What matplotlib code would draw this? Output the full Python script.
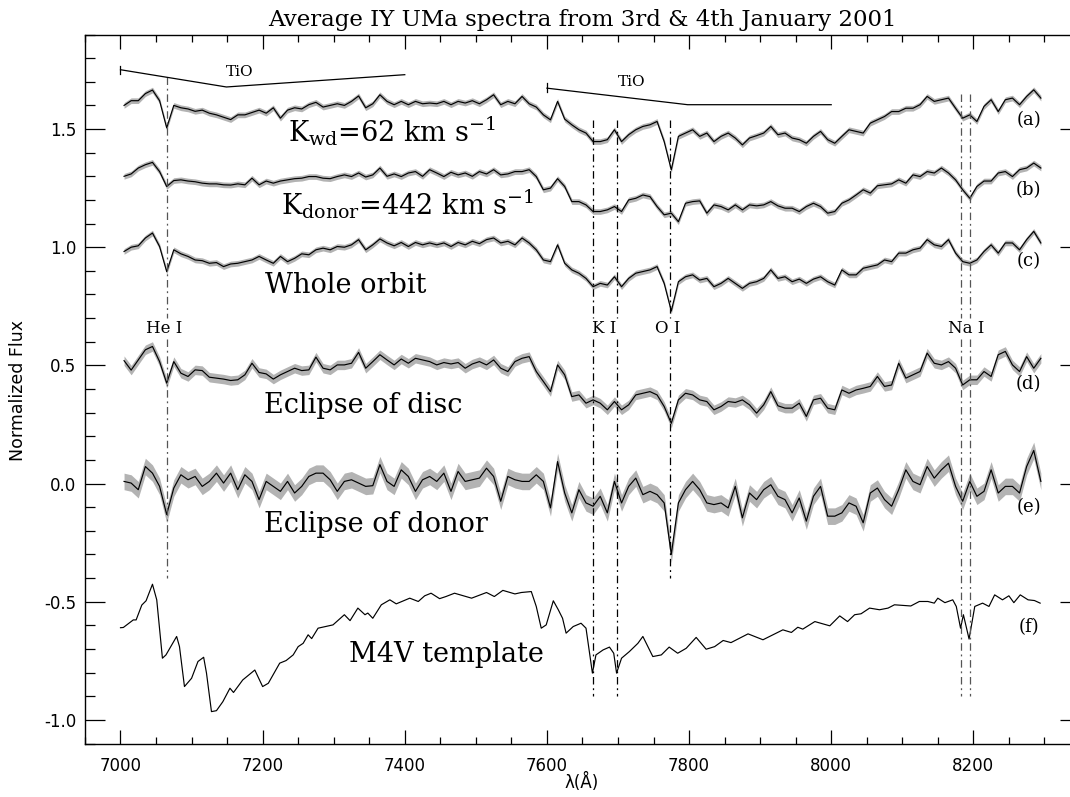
import numpy as np
import matplotlib
matplotlib.use("Agg")
import matplotlib.pyplot as plt
from matplotlib.ticker import MultipleLocator

# wavelength grid of the averaged spectra (Angstrom)
wave = np.arange(7005, 8296, 10)

# (a) K_wd = 62 km/s
flux_a = [1.60, 1.62, 1.62, 1.65, 1.665, 1.62, 1.505, 1.60, 1.59, 1.585,
          1.575, 1.58, 1.567, 1.56, 1.55, 1.54, 1.56, 1.56, 1.57, 1.58,
          1.567, 1.59, 1.546, 1.58, 1.59, 1.585, 1.603, 1.613, 1.593, 1.60,
          1.607, 1.60, 1.617, 1.64, 1.59, 1.607, 1.645, 1.617, 1.603, 1.617,
          1.603, 1.617, 1.607, 1.61,
          1.607, 1.617, 1.603, 1.617, 1.61, 1.62, 1.607, 1.624, 1.645, 1.603,
          1.617, 1.607, 1.638, 1.607, 1.593, 1.56, 1.539, 1.617, 1.542, 1.518,
          1.497, 1.483, 1.447, 1.447, 1.455, 1.497, 1.447, 1.476, 1.497, 1.511,
          1.518, 1.532, 1.447, 1.327, 1.469, 1.483, 1.497, 1.469, 1.483, 1.447,
          1.469, 1.483, 1.462, 1.433, 1.462, 1.472, 1.483, 1.511, 1.476, 1.483,
          1.462, 1.455, 1.44, 1.469, 1.49, 1.455, 1.44, 1.469, 1.497, 1.49,
          1.483, 1.525, 1.539, 1.553, 1.574, 1.574, 1.588, 1.588, 1.603, 1.638,
          1.617, 1.624, 1.631, 1.588, 1.546, 1.56, 1.532, 1.596, 1.624, 1.574,
          1.624, 1.631, 1.603, 1.638, 1.666, 1.631]

# (b) K_donor = 442 km/s
flux_b = [1.30, 1.31, 1.335, 1.349, 1.359, 1.32, 1.257, 1.282, 1.285, 1.28,
          1.277, 1.271, 1.268, 1.268, 1.264, 1.263, 1.268, 1.264, 1.292, 1.264,
          1.28, 1.271, 1.28, 1.285, 1.29, 1.292, 1.299, 1.299, 1.292, 1.29,
          1.299, 1.306, 1.299, 1.314, 1.297, 1.306, 1.335, 1.30, 1.31, 1.299,
          1.314, 1.32, 1.30, 1.328,
          1.314, 1.299, 1.317, 1.306, 1.314, 1.30, 1.32, 1.31, 1.328, 1.306,
          1.31, 1.32, 1.32, 1.328, 1.299, 1.243, 1.25, 1.29, 1.257, 1.193,
          1.193, 1.179, 1.151, 1.151, 1.158, 1.172, 1.151, 1.20, 1.207, 1.221,
          1.214, 1.172, 1.137, 1.144, 1.108, 1.186, 1.193, 1.196, 1.144, 1.179,
          1.172, 1.158, 1.179, 1.158, 1.179, 1.175, 1.179, 1.193, 1.175, 1.165,
          1.165, 1.151, 1.172, 1.186, 1.172, 1.144, 1.151, 1.186, 1.20, 1.221,
          1.243, 1.229, 1.26, 1.264, 1.268, 1.285, 1.271, 1.306, 1.299, 1.32,
          1.314, 1.335, 1.314, 1.285, 1.243, 1.207, 1.257, 1.28, 1.28, 1.314,
          1.32, 1.299, 1.328, 1.335, 1.356, 1.335]

# (c) whole orbit
flux_c = [0.982, 1.0, 1.006, 1.039, 1.06, 1.003, 0.897, 0.989, 0.972, 0.961,
          0.946, 0.943, 0.932, 0.935, 0.918, 0.929, 0.932, 0.939, 0.946, 0.961,
          0.946, 0.932, 0.961, 0.939, 0.953, 0.972, 0.968, 0.989, 0.996, 0.989,
          1.003, 1.0, 1.01, 1.032, 0.989, 1.01, 1.035, 1.018, 1.006, 1.02,
          1.003, 1.02, 1.01, 1.018,
          1.01, 1.018, 1.003, 1.02, 1.01, 1.025, 1.015, 1.032, 1.039, 1.018,
          1.025, 1.01, 1.039, 1.018, 0.989, 0.946, 0.939, 1.01, 0.932, 0.904,
          0.89, 0.868, 0.833, 0.847, 0.84, 0.875, 0.833, 0.868, 0.89, 0.897,
          0.904, 0.918, 0.847, 0.73, 0.854, 0.875, 0.883, 0.861, 0.868, 0.833,
          0.847, 0.868, 0.847, 0.826, 0.847, 0.854, 0.868, 0.904, 0.868, 0.875,
          0.854, 0.865, 0.847, 0.865, 0.875, 0.854, 0.84, 0.904, 0.883, 0.883,
          0.911, 0.918, 0.925, 0.946, 0.939, 0.975, 0.975, 0.989, 0.996, 1.032,
          1.01, 1.003, 1.032, 0.975, 0.939, 0.932, 0.946, 0.982, 1.01, 0.975,
          1.018, 1.018, 0.989, 1.032, 1.067, 1.018]

# (d) eclipse of disc
flux_d = [0.52, 0.48, 0.523, 0.566, 0.58, 0.516, 0.425, 0.516, 0.467, 0.453,
          0.481, 0.478, 0.45, 0.446, 0.442, 0.436, 0.439, 0.46, 0.509, 0.47,
          0.464, 0.442, 0.46, 0.474, 0.488, 0.478, 0.481, 0.535, 0.488, 0.481,
          0.502, 0.502, 0.509, 0.555, 0.488, 0.516, 0.545, 0.523, 0.502, 0.527,
          0.509, 0.53, 0.523, 0.516,
          0.502, 0.512, 0.506, 0.512, 0.488, 0.506, 0.516, 0.502, 0.523, 0.488,
          0.474, 0.516, 0.53, 0.537, 0.474, 0.432, 0.389, 0.502, 0.46, 0.368,
          0.375, 0.34, 0.354, 0.34, 0.312, 0.347, 0.312, 0.333, 0.375, 0.382,
          0.389, 0.375, 0.326, 0.255, 0.354, 0.382, 0.375, 0.354, 0.347, 0.312,
          0.326, 0.347, 0.343, 0.354, 0.333, 0.298, 0.333, 0.389, 0.329, 0.319,
          0.319, 0.34, 0.284, 0.354, 0.361, 0.319, 0.312, 0.396, 0.382, 0.396,
          0.403, 0.411, 0.453, 0.411, 0.417, 0.509, 0.446, 0.46, 0.474, 0.552,
          0.509, 0.502, 0.516, 0.488, 0.417, 0.439, 0.439, 0.474, 0.453, 0.545,
          0.559, 0.502, 0.474, 0.537, 0.488, 0.53]

# (e) eclipse of donor
flux_e = [0.009, 0.002, -0.026, 0.072, 0.044, -0.012, -0.131, -0.019, 0.037, 0.016,
          0.03, -0.012, 0.009, 0.044, 0.002, 0.044, -0.026, 0.037, 0.009, -0.068,
          0.009, -0.012, -0.033, 0.009, -0.04, -0.012, 0.03, 0.044, 0.044, 0.016,
          -0.033, 0.009, 0.016, 0.002, -0.012, -0.009, 0.08, 0.009, -0.012, 0.058,
          0.03, -0.033, 0.016, 0.03,
          0.009, 0.044, -0.033, 0.051, 0.009, 0.016, 0.023, 0.065, 0.03, -0.075,
          0.03, 0.016, 0.009, 0.009, 0.037, 0.009, -0.103, 0.093, -0.04, -0.124,
          -0.026, -0.082, -0.096, -0.054, -0.124, 0.009, -0.082, -0.012, 0.023, -0.047,
          -0.033, -0.047, -0.082, -0.30, -0.082, -0.026, 0.009, -0.026, -0.082, -0.089,
          -0.082, -0.103, -0.012, -0.145, -0.04, -0.068, -0.026, -0.005, -0.054, -0.068,
          -0.124, -0.061, -0.159, -0.054, -0.012, -0.138, -0.138, -0.124, -0.082, -0.096,
          -0.166, -0.04, -0.019, -0.068, -0.096, -0.026, 0.058, 0.009, -0.005, 0.072,
          0.023, 0.058, 0.086, -0.012, -0.075, 0.009, -0.054, -0.033, 0.058, -0.04,
          -0.012, -0.012, -0.04, 0.072, 0.14, 0.009]

# 1-sigma errors of the averaged spectra
err_a = 0.012
err_b = 0.012
err_c = 0.012
err_d = 0.02
err_e = 0.035

# (f) M4V template
tmpl_wave = [7000, 7004, 7018, 7022, 7030, 7036, 7045, 7051, 7059, 7064,
             7079, 7083, 7090, 7100, 7109, 7117, 7121, 7128, 7135, 7144,
             7154, 7159, 7172, 7189, 7200, 7208, 7224, 7233, 7243, 7250,
             7257, 7264, 7269, 7278, 7299, 7315, 7323, 7334, 7344, 7348,
             7355, 7367, 7379, 7388, 7407, 7419, 7428, 7437, 7449, 7458,
             7470, 7494, 7515, 7526, 7538, 7555, 7564, 7578, 7585, 7592,
             7599, 7609, 7616, 7622, 7627, 7637, 7648, 7655, 7664, 7669,
             7679, 7688, 7694, 7698, 7705, 7716, 7728, 7735, 7742, 7749,
             7761, 7772, 7784, 7796, 7810, 7824, 7836, 7848, 7859, 7883,
             7904, 7918, 7932, 7944, 7953, 7960, 7977, 7998, 8012, 8023,
             8033, 8042, 8054, 8068, 8080, 8089, 8112, 8124, 8136, 8145,
             8150, 8160, 8171, 8176, 8182, 8186, 8194, 8202, 8213, 8222,
             8230, 8241, 8250, 8257, 8266, 8277, 8286, 8294]
tmpl_flux = [-0.61, -0.609, -0.577, -0.577, -0.514, -0.496, -0.426, -0.492, -0.739, -0.725,
             -0.647, -0.69, -0.859, -0.824, -0.753, -0.735, -0.802, -0.965, -0.961, -0.923,
             -0.866, -0.884, -0.831, -0.789, -0.859, -0.845, -0.76, -0.749, -0.725, -0.69,
             -0.676, -0.64, -0.656, -0.612, -0.598, -0.555, -0.58, -0.527, -0.555, -0.548,
             -0.57, -0.513, -0.492, -0.509, -0.485, -0.499, -0.475, -0.464, -0.487, -0.478,
             -0.464, -0.485, -0.461, -0.478, -0.452, -0.467, -0.461, -0.457, -0.52, -0.612,
             -0.598, -0.496, -0.534, -0.57, -0.633, -0.605, -0.591, -0.612, -0.802, -0.725,
             -0.704, -0.692, -0.718, -0.802, -0.739, -0.711, -0.676, -0.647, -0.69, -0.732,
             -0.725, -0.692, -0.718, -0.697, -0.651, -0.701, -0.69, -0.664, -0.673, -0.636,
             -0.661, -0.64, -0.619, -0.63, -0.608, -0.616, -0.584, -0.602, -0.56, -0.584,
             -0.555, -0.551, -0.527, -0.534, -0.527, -0.513, -0.518, -0.499, -0.499, -0.506,
             -0.485, -0.504, -0.492, -0.52, -0.612, -0.555, -0.658, -0.52, -0.506, -0.52,
             -0.471, -0.492, -0.475, -0.504, -0.471, -0.492, -0.495, -0.506]

# line identifications: position, top and bottom of the marker
line_wave = [7066, 7665, 7699, 7773, 8183, 8195]
line_top = [1.72, 1.54, 1.54, 1.54, 1.65, 1.65]
line_bot = [-0.40, -0.90, -0.90, -0.40, -0.90, -0.90]
line_col = ['#555555', 'k', 'k', 'k', '#555555', '#555555']
line_names = ['He I', 'K I', 'O I', 'Na I']
line_name_x = [7061, 7681, 7770, 8190]

spec_names = [r'K$_{\rm wd}$=62 km s$^{-1}$', r'K$_{\rm donor}$=442 km s$^{-1}$',
              'Whole orbit', 'Eclipse of disc', 'Eclipse of donor', 'M4V template']
spec_name_x = [7235, 7226, 7203, 7202, 7202, 7321]
spec_name_y = [1.447, 1.137, 0.806, 0.298, -0.203, -0.753]
panel_tags = ['(a)', '(b)', '(c)', '(d)', '(e)', '(f)']
panel_tag_y = [1.539, 1.242, 0.94, 0.422, -0.10, -0.608]

plt.rcParams['axes.unicode_minus'] = False
plt.rcParams['mathtext.fontset'] = 'dejavuserif'

fig = plt.figure(figsize=(10.7, 7.97), dpi=100)
ax = fig.add_axes([0.0794, 0.0671, 0.9299, 0.8896])

spectra = [flux_a, flux_b, flux_c, flux_d, flux_e]
errs = [err_a, err_b, err_c, err_d, err_e]
for flux, err in zip(spectra, errs):
    f = np.array(flux)
    ax.fill_between(wave, f - err, f + err, color='#b3b3b3', lw=0)
    ax.plot(wave, f, color='k', lw=0.85)
ax.plot(tmpl_wave, tmpl_flux, color='k', lw=0.85)

# dash-dot line markers, broken where the labels sit
for w, t, b, c in zip(line_wave, line_top, line_bot, line_col):
    ax.plot([w, w], [t, 0.70], color=c, lw=0.9, dashes=[6, 3, 1.5, 3])
    ax.plot([w, w], [0.61, b], color=c, lw=0.9, dashes=[6, 3, 1.5, 3])
for name, x in zip(line_names, line_name_x):
    ax.text(x, 0.658, name, ha='center', va='center', fontsize=12, family='DejaVu Serif')

# TiO band heads
ax.plot([7000, 7000], [1.733, 1.768], color='k', lw=0.9)
ax.plot([7000, 7149, 7400], [1.751, 1.678, 1.73], color='k', lw=0.9)
ax.text(7168, 1.740, 'TiO', ha='center', va='center', fontsize=11, family='DejaVu Serif')
ax.plot([7600, 7600], [1.655, 1.694], color='k', lw=0.9)
ax.plot([7600, 7798, 8000], [1.673, 1.603, 1.603], color='k', lw=0.9)
ax.text(7719, 1.698, 'TiO', ha='center', va='center', fontsize=11, family='DejaVu Serif')

for name, x, y in zip(spec_names, spec_name_x, spec_name_y):
    ax.text(x, y, name, ha='left', va='baseline', fontsize=19.5, family='DejaVu Serif')
for tag, y in zip(panel_tags, panel_tag_y):
    ax.text(8278, y, tag, ha='center', va='center', fontsize=13, family='DejaVu Serif')

ax.set_xlim(6950, 8350)
ax.set_ylim(-1.1, 1.9)
ax.xaxis.set_major_locator(MultipleLocator(200))
ax.xaxis.set_minor_locator(MultipleLocator(50))
ax.yaxis.set_major_locator(MultipleLocator(0.5))
ax.yaxis.set_minor_locator(MultipleLocator(0.1))
ax.tick_params(which='both', direction='in', top=True, right=True, width=0.9, labelsize=12)
ax.tick_params(axis='x', which='major', length=10, pad=10)
ax.tick_params(axis='x', which='minor', length=5)
ax.tick_params(axis='y', which='major', length=14.4, pad=6)
ax.tick_params(axis='y', which='minor', length=7.2)
for s in ax.spines.values():
    s.set_linewidth(1.0)

ax.set_title('Average IY UMa spectra from 3rd & 4th January 2001', fontsize=16.5,
             family='DejaVu Serif', pad=6)
fig.text(0.544, 0.006, 'λ(Å)', ha='center', va='bottom', fontsize=12)
fig.text(0.017, 0.51, 'Normalized Flux', rotation=90, ha='center', va='center', fontsize=12.5)

fig.savefig('out.png', dpi=100)
